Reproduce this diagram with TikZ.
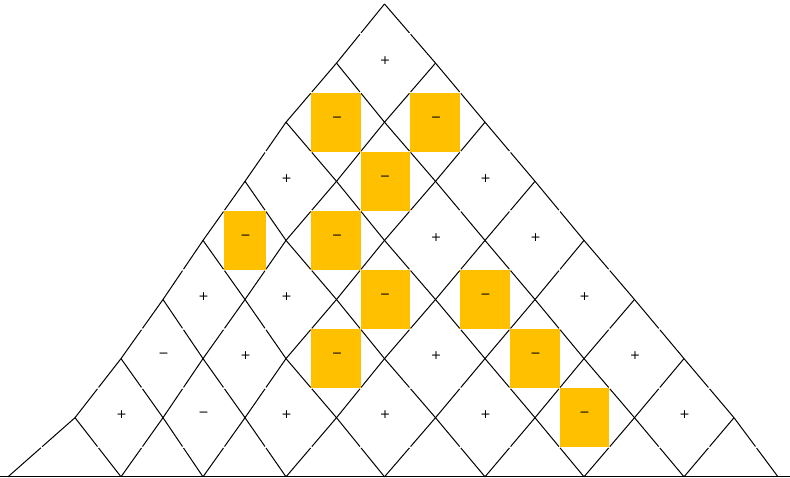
\documentclass[tikz,border=0pt]{standalone}
\usepackage{fontspec}
\newfontfamily\signfont{DejaVu Sans}
\usetikzlibrary{calc}
\definecolor{gold}{HTML}{FFC000}
\begin{document}
\begin{tikzpicture}[x=1pt,y=-1pt,
  edge/.style={line width=1pt,black,shorten >=0.9pt},
  cellfill/.style={fill=gold},
  sign/.style={inner sep=0pt,font=\signfont\fontsize{12.5}{14}\selectfont}]
\useasboundingbox (0,0) rectangle (790,478);
\def\xs{{8,75,121,163,203,245,286,336.5,384.5,435.5,485,535,584,634.5,684,734,778}}
% vertices
\foreach \j in {0,...,8}{
  \foreach \m in {0,...,\j}{
    \pgfmathtruncatemacro\i{8-\j+2*\m}
    \pgfmathsetmacro\xx{\xs[\i]}
    \coordinate (v\i-\j) at (\xx,{4+59.1*\j});
  }
}
% lattice edges, drawn as half edges with small gaps at the midpoints
\foreach \j in {0,...,7}{
  \foreach \m in {0,...,\j}{
    \pgfmathtruncatemacro\i{8-\j+2*\m}
    \pgfmathtruncatemacro\jn{\j+1}
    \pgfmathtruncatemacro\il{\i-1}
    \pgfmathtruncatemacro\ir{\i+1}
    \draw[edge] (v\i-\j) -- ($(v\i-\j)!0.5!(v\il-\jn)$);
    \draw[edge] (v\il-\jn) -- ($(v\i-\j)!0.5!(v\il-\jn)$);
    \draw[edge] (v\i-\j) -- ($(v\i-\j)!0.5!(v\ir-\jn)$);
    \draw[edge] (v\ir-\jn) -- ($(v\i-\j)!0.5!(v\ir-\jn)$);
  }
}
% bottom line
\coordinate (bl) at (0,476.8);
\coordinate (br) at (790,476.8);
\draw[line width=1.3pt] (bl) -- (br);
% highlighted cells
\foreach \c/\k in {-1/2,1/2,0/3,-3/4,-1/4,0/5,2/5,-1/6,3/6,4/7}{
  \pgfmathtruncatemacro\i{\c+8}
  \pgfmathtruncatemacro\il{\i-1}
  \pgfmathtruncatemacro\ir{\i+1}
  \pgfmathtruncatemacro\ku{\k-1}
  \pgfmathtruncatemacro\kd{\k+1}
  \fill[cellfill] ($(v\il-\k)!0.5!(v\i-\ku)$) rectangle ($(v\ir-\k)!0.5!(v\i-\kd)$);
}
% signs
\foreach \c/\k/\s in {0/1/+,
  -1/2/−,1/2/−,
  -2/3/+,0/3/−,2/3/+,
  -3/4/−,-1/4/−,1/4/+,3/4/+,
  -4/5/+,-2/5/+,0/5/−,2/5/−,4/5/+,
  -5/6/−,-3/6/+,-1/6/−,1/6/+,3/6/−,5/6/+,
  -6/7/+,-4/7/−,-2/7/+,0/7/+,2/7/+,4/7/−,6/7/+}{
  \pgfmathtruncatemacro\i{\c+8}
  \pgfmathtruncatemacro\ku{\k-1}
  \pgfmathtruncatemacro\kd{\k+1}
  \node[sign] (s\i-\k) at ($($(v\i-\ku)!0.5!(v\i-\kd)$)+(0.5,-3)$) {\s};
}
\end{tikzpicture}
\end{document}
